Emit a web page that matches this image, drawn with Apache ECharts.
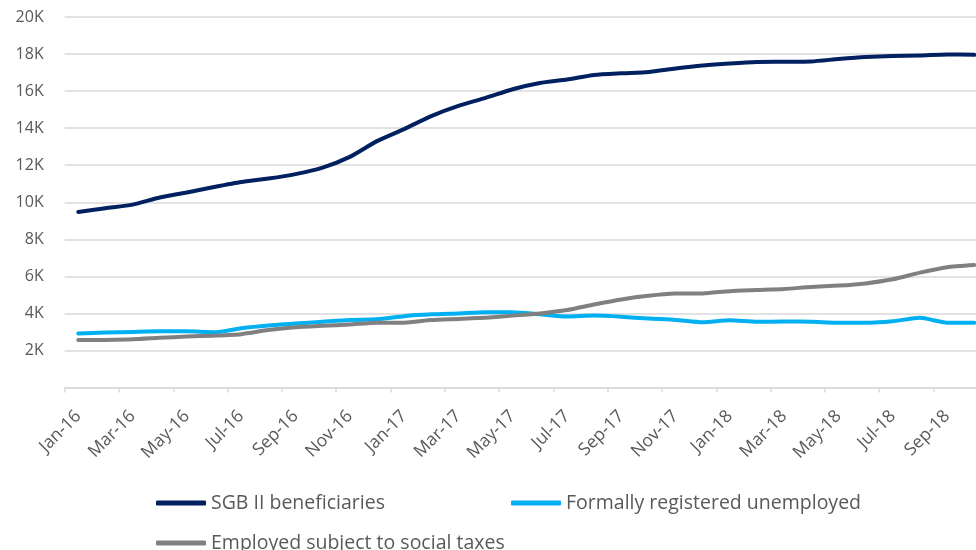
<!DOCTYPE html>
<html>
<head>
<meta charset="utf-8">
<script src="https://cdn.jsdelivr.net/npm/echarts@6/dist/echarts.min.js"></script>
<style>
html,body{margin:0;padding:0;background:#fff;}
#chart{width:976px;height:550px;}
</style>
</head>
<body>
<div id="chart"></div>
<script>
const months = ['Jan-16','Feb-16','Mar-16','Apr-16','May-16','Jun-16','Jul-16','Aug-16','Sep-16','Oct-16','Nov-16','Dec-16',
  'Jan-17','Feb-17','Mar-17','Apr-17','May-17','Jun-17','Jul-17','Aug-17','Sep-17','Oct-17','Nov-17','Dec-17',
  'Jan-18','Feb-18','Mar-18','Apr-18','May-18','Jun-18','Jul-18','Aug-18','Sep-18','Oct-18'];

const sgbII = [9470,9680,9870,10260,10530,10820,11090,11280,11520,11870,12450,13300,
  13950,14650,15200,15630,16100,16440,16630,16870,16960,17030,17220,17380,
  17490,17570,17580,17600,17730,17840,17900,17920,17980,17960];

const registeredUnemployed = [2920,2970,3000,3030,3030,2980,3200,3350,3450,3550,3650,3680,
  3850,3950,4000,4060,4060,3950,3830,3880,3820,3720,3650,3520,
  3630,3550,3560,3550,3500,3500,3580,3760,3500,3500];

const employedSocial = [2560,2570,2600,2680,2750,2800,2880,3100,3250,3330,3400,3500,
  3500,3640,3700,3770,3880,4000,4180,4480,4750,4950,5070,5080,
  5200,5260,5320,5430,5500,5620,5840,6200,6490,6610];

const seriesNames = ['SGB II beneficiaries','Formally registered unemployed','Employed subject to social taxes'];
const yTicks = [0,2000,4000,6000,8000,10000,12000,14000,16000,18000,20000];

const colors = ['#002060','#00B0F0','#808080'];
const FONT = '"Open Sans", "Liberation Sans", sans-serif';
const TXT = '#595959';

const chart = echarts.init(document.getElementById('chart'), null, {renderer:'canvas'});

const legendBase = {
  orient: 'horizontal',
  itemWidth: 50,
  itemHeight: 5,
  icon: 'roundRect',
  padding: 0,
  itemGap: 0,
  textStyle: {fontFamily: FONT, fontSize: 19.5, color: TXT}
};

chart.setOption({
  animation: false,
  backgroundColor: '#ffffff',
  color: colors,
  grid: {left: 64.7, top: 17, width: 923.1, bottom: 162.5, containLabel: false, outerBoundsMode: 'none'},
  legend: [
    Object.assign({}, legendBase, {data: [seriesNames[0]], left: 156, top: 493}),
    Object.assign({}, legendBase, {data: [seriesNames[1]], left: 511, top: 493}),
    Object.assign({}, legendBase, {data: [seriesNames[2]], left: 156, top: 533})
  ],
  xAxis: {
    type: 'category',
    data: months,
    boundaryGap: true,
    axisLine: {show: true, lineStyle: {color: '#d9d9d9', width: 1.5}},
    axisTick: {show: true, interval: 1, length: 5, lineStyle: {color: '#d9d9d9', width: 1.5}},
    axisLabel: {interval: 1, rotate: 45, margin: 26, fontFamily: FONT, fontSize: 17.5, color: TXT},
    splitLine: {show: false}
  },
  yAxis: {
    type: 'value',
    min: yTicks[0],
    max: yTicks[yTicks.length - 1],
    interval: 2000,
    axisLine: {show: false},
    axisTick: {show: false},
    axisLabel: {
      margin: 21, fontFamily: FONT, fontSize: 16, color: TXT,
      formatter: v => v === 0 ? '' : (v / 1000) + 'K'
    },
    splitLine: {lineStyle: {color: '#d9d9d9', width: 1.5}}
  },
  series: [
    {name: seriesNames[0], type: 'line', data: sgbII, symbol: 'none', smooth: 0.2, lineStyle: {width: 4, color: colors[0], cap: 'round', join: 'round'}, z: 3},
    {name: seriesNames[1], type: 'line', data: registeredUnemployed, symbol: 'none', smooth: 0.2, lineStyle: {width: 4, color: colors[1], cap: 'round', join: 'round'}, z: 2},
    {name: seriesNames[2], type: 'line', data: employedSocial, symbol: 'none', smooth: 0.2, lineStyle: {width: 4, color: colors[2], cap: 'round', join: 'round'}, z: 2}
  ]
});
</script>
</body>
</html>
